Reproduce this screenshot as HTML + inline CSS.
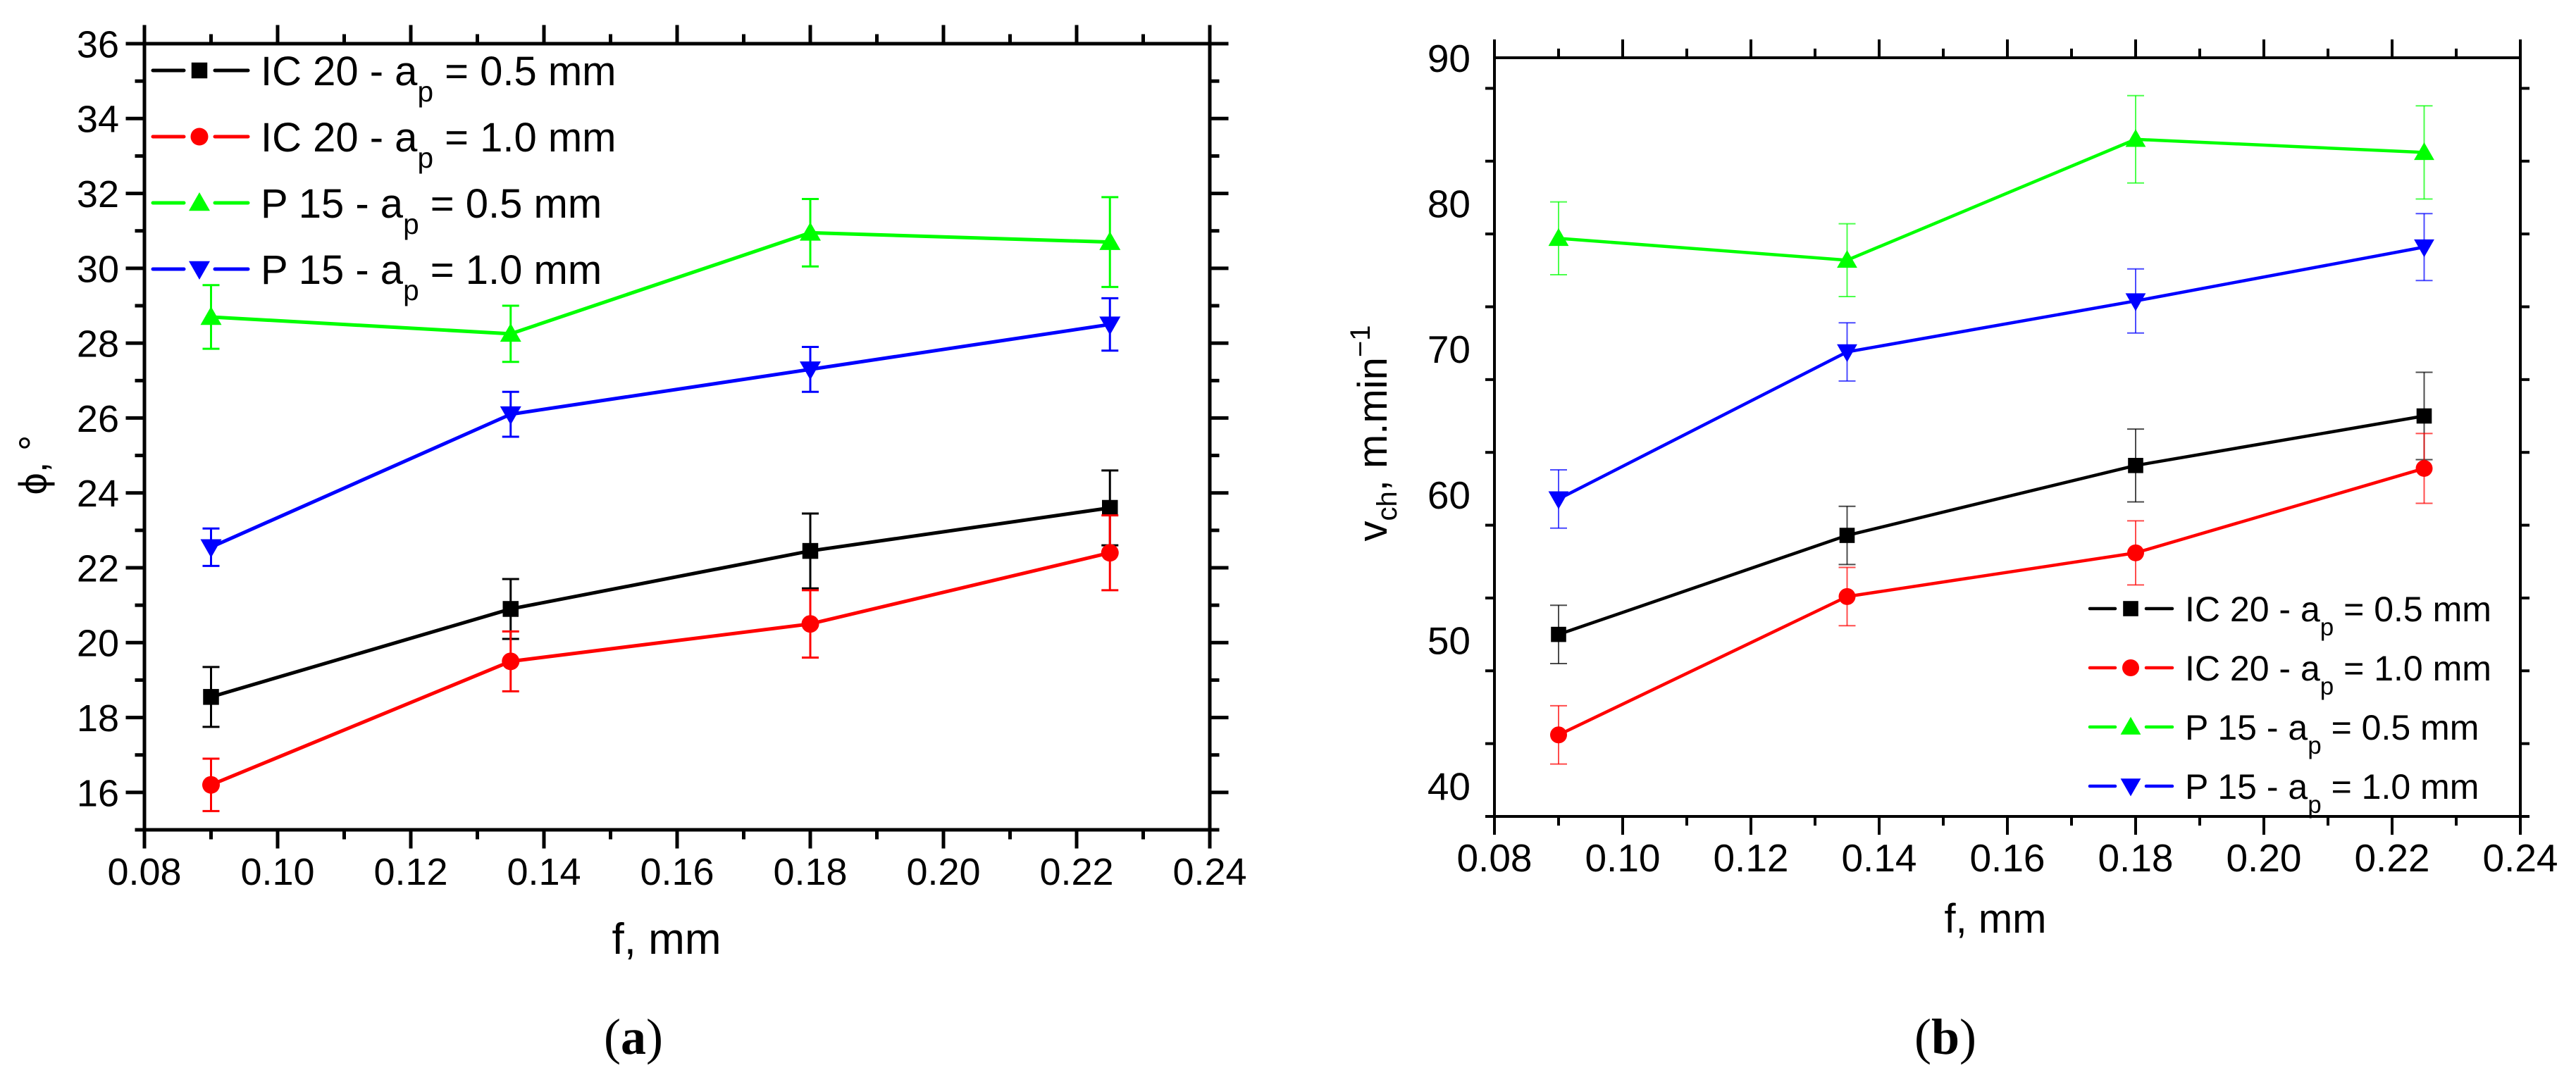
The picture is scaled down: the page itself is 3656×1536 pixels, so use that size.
<!DOCTYPE html>
<html><head><meta charset="utf-8"><style>
html,body{margin:0;padding:0;background:#fff;}
svg{display:block;font-family:"Liberation Sans",Arial,sans-serif;}
</style></head><body>
<svg id="fig" width="3656" height="1536" viewBox="0 0 3656 1536" xmlns="http://www.w3.org/2000/svg"></svg>
<script>
// ---- shared data ----
const feedValues = [0.09, 0.135, 0.18, 0.225];
const xTickLabels = ["0.08","0.10","0.12","0.14","0.16","0.18","0.20","0.22","0.24"];
const seriesNames = ["IC 20", "IC 20", "P 15", "P 15"];
const seriesDepths = ["0.5", "1.0", "0.5", "1.0"];
// ---- chart (a): phi ----
const phiIC20_05 = [18.55, 20.9, 22.45, 23.6];
const phiIC20_05err = [0.8, 0.8, 1.0, 1.0];
const phiIC20_10 = [16.2, 19.5, 20.5, 22.4];
const phiIC20_10err = [0.7, 0.8, 0.9, 1.0];
const phiP15_05 = [28.7, 28.25, 30.95, 30.7];
const phiP15_05err = [0.85, 0.75, 0.9, 1.2];
const phiP15_10 = [22.55, 26.1, 27.3, 28.5];
const phiP15_10err = [0.5, 0.6, 0.6, 0.7];
const phiTickLabels = ["16","18","20","22","24","26","28","30","32","34","36"];
// ---- chart (b): vch ----
const vIC20_05 = [50.4, 57.2, 62.0, 65.4];
const vIC20_05err = [2.0, 2.0, 2.5, 3.0];
const vIC20_10 = [43.5, 53.0, 56.0, 61.8];
const vIC20_10err = [2.0, 2.0, 2.2, 2.4];
const vP15_05 = [77.6, 76.1, 84.4, 83.5];
const vP15_05err = [2.5, 2.5, 3.0, 3.2];
const vP15_10 = [59.7, 69.8, 73.3, 77.0];
const vP15_10err = [2.0, 2.0, 2.2, 2.3];
const vTickLabels = ["40","50","60","70","80","90"];

const colors = ["#000000","#ff0000","#00ff00","#0000ff"];
const markers = ["square","circle","up","down"];
const NS = "http://www.w3.org/2000/svg";
const svg = document.getElementById('fig');
function mk(tag, attrs, parent){
  const e = document.createElementNS(NS, tag);
  for (const k in attrs) e.setAttribute(k, attrs[k]);
  (parent||svg).appendChild(e);
  return e;
}
function marker(g, type, cx, cy, s, col){
  let e;
  if (type==="square"){ e = mk('rect',{x:cx-s*0.45,y:cy-s*0.45,width:s*0.9,height:s*0.9,fill:col},g); }
  else if (type==="circle"){ e = mk('circle',{cx:cx,cy:cy,r:s*0.5,fill:col},g); }
  else if (type==="up"){ e = mk('polygon',{points:`${cx-s*0.6},${cy+s*0.45} ${cx+s*0.6},${cy+s*0.45} ${cx},${cy-s*0.6}`,fill:col},g); }
  else { e = mk('polygon',{points:`${cx-s*0.6},${cy-s*0.45} ${cx+s*0.6},${cy-s*0.45} ${cx},${cy+s*0.6}`,fill:col},g); }
  return e;
}

function drawChart(c){
  const g = mk('g',{});
  
  
  const X = v => c.L + (v - c.xMin)/(c.xMax - c.xMin)*(c.R - c.L);
  const Y = v => c.B - (v - c.yMin)/(c.yMax - c.yMin)*(c.B - c.T);
  const ax = mk('g',{stroke:'#000','stroke-width':c.aw,'stroke-linecap':'square'},g);
  
  
  mk('rect',{x:c.L,y:c.T,width:c.R-c.L,height:c.B-c.T,fill:'none'},ax);
  for (let i=0;i<=16;i++){
    const v = c.xMin + i*0.01, x = X(v), len = i%2===0 ? 24 : 11;
    mk('line',{x1:x,y1:c.B,x2:x,y2:c.B+len},ax);
    mk('line',{x1:x,y1:c.T,x2:x,y2:c.T-len},ax);
  }
  xTickLabels.forEach((t,i)=>{
    const v = parseFloat(t);
    const e = mk('text',{x:X(v),y:c.B+c.xlOff,'font-size':c.fs,'text-anchor':'middle',fill:'#000'},g);
    e.textContent = t;
    
    
  });
  const nMinor = Math.round((c.yMax - c.yMin)/c.yMinor);
  for (let i=0;i<=nMinor;i++){
    const v = c.yMin + i*c.yMinor, y = Y(v);
    const major = Math.abs(((v - c.yMajor0)/c.yMajor) - Math.round((v - c.yMajor0)/c.yMajor))<1e-6;
    const len = major ? 24 : 11;
    mk('line',{x1:c.L,y1:y,x2:c.L-len,y2:y},ax);
    mk('line',{x1:c.R,y1:y,x2:c.R+len,y2:y},ax);
  }
  c.yTicks.forEach(t=>{
    const v = parseFloat(t);
    const e = mk('text',{x:c.L-c.ylOff,y:Y(v)+c.fs*0.36,'font-size':c.fs,'text-anchor':'end',fill:'#000'},g);
    e.textContent = t;
    
    
  });
  c.series.forEach((s,k)=>{
    const sg = mk('g',{},g);
    
    
    const col = colors[k];
    const eg = mk('g',{stroke:col,'stroke-width':c.ew,'stroke-opacity':c.eop},sg);
    s.vals.forEach((v,i)=>{
      const x = X(feedValues[i]), y1 = Y(v + s.err[i]), y2 = Y(v - s.err[i]);
      mk('line',{x1:x,y1:y1,x2:x,y2:y2},eg);
      mk('line',{x1:x-12,y1:y1,x2:x+12,y2:y1},eg);
      mk('line',{x1:x-12,y1:y2,x2:x+12,y2:y2},eg);
    });
    const pts = s.vals.map((v,i)=>X(feedValues[i])+','+Y(v)).join(' ');
    const pl = mk('polyline',{points:pts,fill:'none',stroke:col,'stroke-width':c.lw,'stroke-linejoin':'round'},sg);
    
    
    s.vals.forEach((v,i)=>{
      const m = marker(sg, markers[k], X(feedValues[i]), Y(v), c.ms, col);
      
      
    });
  });
  const lg = mk('g',{},g);
  
  
  for (let k=0;k<4;k++){
    const y = c.leg.y0 + k*c.leg.dy, col = colors[k];
    const eg = mk('g',{},lg);
    
    
    mk('line',{x1:c.leg.x0,y1:y,x2:c.leg.mx-22,y2:y,stroke:col,'stroke-width':c.lw,'stroke-linecap':'round'},eg);
    mk('line',{x1:c.leg.mx+22,y1:y,x2:c.leg.x1,y2:y,stroke:col,'stroke-width':c.lw,'stroke-linecap':'round'},eg);
    marker(eg, markers[k], c.leg.mx, y, c.ms, col);
    const t = mk('text',{x:c.leg.tx,y:y+c.leg.fs*0.36,'font-size':c.leg.fs,fill:'#000'},eg);
    const t1 = mk('tspan',{},t); t1.textContent = seriesNames[k]+' - a';
    const t2 = mk('tspan',{dy:c.leg.fs*0.4,'font-size':c.leg.fs*0.7},t); t2.textContent = 'p';
    const t3 = mk('tspan',{dy:-c.leg.fs*0.4},t); t3.textContent = ' = '+seriesDepths[k]+' mm';
  }
}

drawChart({name:'chart-a-phi', L:205, R:1717, T:62, B:1178, xMin:0.08, xMax:0.24, yMin:15, yMax:36,
  yMinor:1, yMajor:2, yMajor0:16, yTicks:phiTickLabels, fs:54, xlOff:78, ylOff:36, aw:5, lw:5, ew:3, eop:1, ms:25,
  series:[{vals:phiIC20_05,err:phiIC20_05err},{vals:phiIC20_10,err:phiIC20_10err},{vals:phiP15_05,err:phiP15_05err},{vals:phiP15_10,err:phiP15_10err}],
  leg:{x0:217,x1:352,mx:283,tx:370,y0:100,dy:94,fs:58}});

drawChart({name:'chart-b-vch', L:2121, R:3577, T:82, B:1159, xMin:0.08, xMax:0.24, yMin:37.9, yMax:90,
  yMinor:5, yMajor:10, yMajor0:40, yTicks:vTickLabels, fs:55, xlOff:78, ylOff:34, aw:4, lw:4.5, ew:2, eop:0.7, ms:24,
  series:[{vals:vIC20_05,err:vIC20_05err},{vals:vIC20_10,err:vIC20_10err},{vals:vP15_05,err:vP15_05err},{vals:vP15_10,err:vP15_10err}],
  leg:{x0:2966,x1:3083,mx:3024,tx:3101,y0:864,dy:84,fs:50}});
</script>
<script>
(function(){
  const s = document.getElementById('fig');
  function t(attrs, txt, name){
    const e = document.createElementNS("http://www.w3.org/2000/svg",'text');
    for (const k in attrs) e.setAttribute(k, attrs[k]);
    e.textContent = txt;
    
    
    s.appendChild(e); return e;
  }
  t({x:946,y:1354,'font-size':62,'text-anchor':'middle'}, 'f, mm', 'x-axis-title-a');
  t({x:2832,y:1324,'font-size':58,'text-anchor':'middle'}, 'f, mm', 'x-axis-title-b');
  t({x:0,y:0,'font-size':56,'text-anchor':'middle',transform:'translate(66,660) rotate(-90)'}, 'ϕ, °', 'y-axis-title-a');
  const yb = t({x:0,y:0,'font-size':58,'text-anchor':'middle',transform:'translate(1968,615) rotate(-90)'}, '', 'y-axis-title-b');
  const NS="http://www.w3.org/2000/svg";
  const a=document.createElementNS(NS,'tspan'); a.textContent='v'; yb.appendChild(a);
  const b=document.createElementNS(NS,'tspan'); b.setAttribute('dy','14'); b.setAttribute('font-size','40'); b.textContent='ch'; yb.appendChild(b);
  const c=document.createElementNS(NS,'tspan'); c.setAttribute('dy','-14'); c.textContent=', m.min'; yb.appendChild(c);
  const d=document.createElementNS(NS,'tspan'); d.setAttribute('dy','-24'); d.setAttribute('font-size','40'); d.textContent='−1'; yb.appendChild(d);
  const pa = t({x:899,y:1496,'font-size':72,'text-anchor':'middle','font-family':'Liberation Serif, serif'}, '', 'panel-label-a');
  pa.innerHTML = '(<tspan font-weight="bold">a</tspan>)';
  const pb = t({x:2761,y:1496,'font-size':72,'text-anchor':'middle','font-family':'Liberation Serif, serif'}, '', 'panel-label-b');
  pb.innerHTML = '(<tspan font-weight="bold">b</tspan>)';
})();
</script>
</body></html>
